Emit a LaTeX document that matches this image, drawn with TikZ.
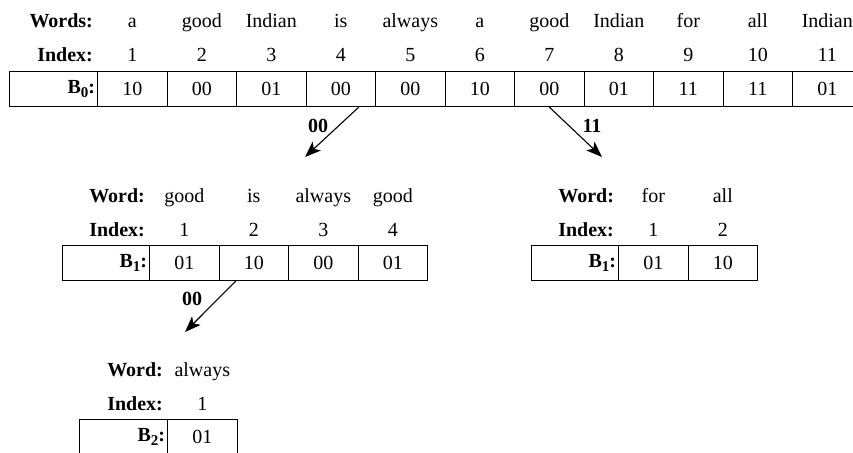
\documentclass[tikz,border=0pt]{standalone}
\usepackage{fontspec}
\setmainfont{Liberation Serif}
\usetikzlibrary{arrows.meta,calc}
\newcommand{\bitsub}[1]{\raisebox{-4pt}{\fontsize{15}{15}\selectfont #1}}
\tikzset{
  txt/.style={font=\fontsize{20}{24}\selectfont, inner sep=0pt},
  cell/.style={txt, draw, line width=1.1pt, minimum width=69.5pt,
    minimum height=35pt, anchor=north west},
  headcell/.style={cell, inner xsep=2.5pt, text width=#1-5pt, align=right,
    font=\fontsize{20}{24}\selectfont\bfseries},
  rowlab/.style={txt, font=\fontsize{20}{24}\selectfont\bfseries, anchor=base east},
  rowtxt/.style={txt, anchor=base},
  link/.style={line width=1.1pt, -{Stealth[length=16pt,width=12pt,inset=4pt]}},
  linklab/.style={txt, font=\fontsize{20}{24}\selectfont\bfseries}
}
\begin{document}
\begin{tikzpicture}[x=1pt,y=-1pt]
\useasboundingbox (0,0) rectangle (853,452);
\clip (0,0) rectangle (853,452);

% level 0: the whole sentence
\node[headcell=88pt] (b0) at (9,71) {B\bitsub{0}:};
\node[rowlab, xshift=-5pt, yshift=43pt] (wl0) at (b0.north east) {Words:};
\node[rowlab, xshift=-5pt, yshift=9pt] (il0) at (b0.north east) {Index:};
\foreach \w/\v [count=\i] in {a/10,good/00,Indian/01,is/00,always/00,a/10,good/00,Indian/01,for/11,all/11,Indian/01}{
  \node[cell] (c0-\i) at ({97+69.5*(\i-1)},71) {\v};
  \node[rowtxt, yshift=43pt] (w0-\i) at (c0-\i.north) {\w};
  \node[rowtxt, yshift=9pt] (i0-\i) at (c0-\i.north) {\i};
}

% level 1, prefix 00
\node[headcell=87pt] (b1) at (62,245) {B\bitsub{1}:};
\node[rowlab, xshift=-5pt, yshift=43pt] (wl1) at (b1.north east) {Word:};
\node[rowlab, xshift=-5pt, yshift=9pt] (il1) at (b1.north east) {Index:};
\foreach \w/\v [count=\i] in {good/01,is/10,always/00,good/01}{
  \node[cell] (c1-\i) at ({149+69.5*(\i-1)},245) {\v};
  \node[rowtxt, yshift=43pt] (w1-\i) at (c1-\i.north) {\w};
  \node[rowtxt, yshift=9pt] (i1-\i) at (c1-\i.north) {\i};
}

% level 1, prefix 11
\node[headcell=87pt] (b3) at (531,245) {B\bitsub{1}:};
\node[rowlab, xshift=-5pt, yshift=43pt] (wl3) at (b3.north east) {Word:};
\node[rowlab, xshift=-5pt, yshift=9pt] (il3) at (b3.north east) {Index:};
\foreach \w/\v [count=\i] in {for/01,all/10}{
  \node[cell] (c3-\i) at ({618+69.5*(\i-1)},245) {\v};
  \node[rowtxt, yshift=43pt] (w3-\i) at (c3-\i.north) {\w};
  \node[rowtxt, yshift=9pt] (i3-\i) at (c3-\i.north) {\i};
}

% level 2, prefix 00 00
\node[headcell=88pt] (b2) at (79,419) {B\bitsub{2}:};
\node[rowlab, xshift=-5pt, yshift=43pt] (wl2) at (b2.north east) {Word:};
\node[rowlab, xshift=-5pt, yshift=9pt] (il2) at (b2.north east) {Index:};
\node[cell] (c2-1) at (167,419) {01};
\node[rowtxt, yshift=43pt] (w2-1) at (c2-1.north) {always};
\node[rowtxt, yshift=9pt] (i2-1) at (c2-1.north) {1};

% links between levels
\coordinate (t1) at (305,157);
\coordinate (t2) at (602,157);
\coordinate (t3) at (185,332);
\draw[link] ($(c0-4.south)+(18,0)$) -- (t1);
\draw[link] (c0-7.south) -- (t2);
\draw[link] ($(c1-2.south)+(-18,0)$) -- (t3);
\node[linklab] (l1) at (318,126) {00};
\node[linklab] (l2) at (592,126) {11};
\node[linklab] (l3) at (192,299) {00};
\end{tikzpicture}
\end{document}
